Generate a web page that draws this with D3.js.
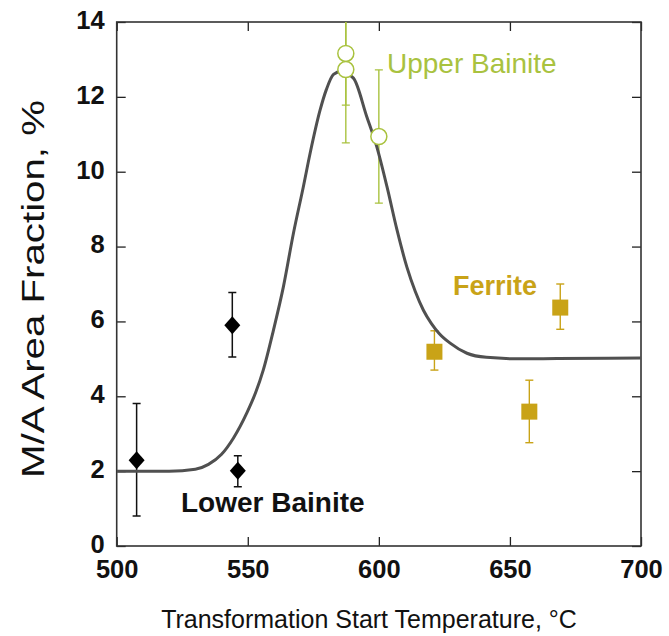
<!DOCTYPE html>
<html>
<head>
<meta charset="utf-8">
<script src="https://cdn.jsdelivr.net/npm/d3@7"></script>
<style>
  html, body { margin: 0; padding: 0; background: #fff; }
  svg { display: block; }
  text { font-family: Arial, "Liberation Sans", sans-serif; }
</style>
</head>
<body>
<svg id="chart" width="669" height="636"></svg>
<script>
// ---- Data ----
const xTicks = [500, 550, 600, 650, 700];
const yTicks = [0, 2, 4, 6, 8, 10, 12, 14];

// Lower bainite (black diamonds): [temperature, fraction, errLow, errHigh]
const lowerBainite = [
  [507.6, 2.29, 0.80, 3.81],
  [544.1, 5.90, 5.05, 6.77],
  [546.2, 2.01, 1.58, 2.41]
];
// Upper bainite (open circles)
const upperBainite = [
  [587.4, 13.16, 11.78, 14.54],
  [587.4, 12.73, 10.77, 14.69],
  [600.0, 10.94, 9.16, 12.72]
];
// Ferrite (squares)
const ferrite = [
  [621.2, 5.19, 4.70, 5.75],
  [657.4, 3.59, 2.76, 4.43],
  [669.2, 6.37, 5.79, 7.00]
];
// Fitted curve
const curveX = [500, 520, 530, 535, 540, 544.5, 549.6, 553, 555.9, 559.8, 563.6, 567.4, 571.2, 573.8, 577.6, 580, 582.7, 585.5, 590.3, 595.4, 599.2, 603.1, 606.9, 610.7, 613.9, 617, 620, 623, 627.2, 633.6, 641, 654, 668, 700];
const curveY = [2.0, 2.0, 2.05, 2.18, 2.45, 2.88, 3.55, 4.1, 4.70, 5.77, 6.93, 8.35, 9.60, 10.50, 11.65, 12.2, 12.6, 12.68, 12.5, 11.47, 10.67, 9.60, 8.45, 7.45, 6.8, 6.3, 5.95, 5.68, 5.42, 5.15, 5.04, 5.0, 5.01, 5.02];

// ---- Layout ----
const svg = d3.select("#chart");
const L = 116.7, R = 641, T = 22, B = 546;
const x = d3.scaleLinear().domain([500, 700]).range([L, R]);
const y = d3.scaleLinear().domain([0, 14]).range([B, T]);

const cUpper = "#a9c23f";
const cFerr = "#c9a317";
const cCurve = "#505050";

svg.append("defs").append("clipPath").attr("id", "clip")
  .append("rect").attr("x", L).attr("y", T).attr("width", R - L).attr("height", B - T);

// axes
const tickLen = 9;
const gx = svg.append("g").attr("transform", `translate(0,${B})`)
  .call(d3.axisBottom(x).tickValues(xTicks).tickSize(-tickLen).tickPadding(14).tickFormat(d3.format("d")));
const gxTop = svg.append("g").attr("transform", `translate(0,${T})`)
  .call(d3.axisTop(x).tickValues(xTicks).tickSize(-tickLen).tickFormat(""));
const gy = svg.append("g").attr("transform", `translate(${L},0)`)
  .call(d3.axisLeft(y).tickValues(yTicks).tickSize(-tickLen).tickPadding(12).tickFormat(d3.format("d")));
const gyR = svg.append("g").attr("transform", `translate(${R},0)`)
  .call(d3.axisRight(y).tickValues(yTicks).tickSize(-tickLen).tickFormat(""));

[gx, gxTop, gy, gyR].forEach(g => {
  g.select(".domain").remove();
  g.selectAll(".tick line").attr("stroke", "#222").attr("stroke-width", 1.3);
  g.selectAll("text").attr("font-size", 25.5).attr("font-weight", "bold")
    .attr("fill", "#111").attr("font-family", "Arial, 'Liberation Sans', sans-serif");
});
gy.selectAll("text").attr("dy", "0.25em");

// frame
svg.append("rect").attr("x", L).attr("y", T).attr("width", R - L).attr("height", B - T)
  .attr("fill", "none").attr("stroke", "#333").attr("stroke-width", 1.6);

const plot = svg.append("g").attr("clip-path", "url(#clip)");

// error bars
function errBars(data, color, width) {
  const cap = 4;
  const g = plot.append("g").attr("stroke", color).attr("stroke-width", width).attr("fill", "none");
  data.forEach(d => {
    g.append("line").attr("x1", x(d[0])).attr("x2", x(d[0])).attr("y1", y(d[2])).attr("y2", y(d[3]));
    g.append("line").attr("x1", x(d[0]) - cap).attr("x2", x(d[0]) + cap).attr("y1", y(d[2])).attr("y2", y(d[2]));
    g.append("line").attr("x1", x(d[0]) - cap).attr("x2", x(d[0]) + cap).attr("y1", y(d[3])).attr("y2", y(d[3]));
  });
}
errBars(lowerBainite, "#111", 1.5);
errBars(upperBainite, cUpper, 1.4);
errBars(ferrite, cFerr, 1.4);

// curve
const line = d3.line().x(d => x(d[0])).y(d => y(d[1])).curve(d3.curveMonotoneX);
plot.append("path").datum(curveX.map((v, i) => [v, curveY[i]]))
  .attr("d", line).attr("fill", "none").attr("stroke", cCurve).attr("stroke-width", 3);

// markers
plot.selectAll(".dia").data(lowerBainite).enter().append("path")
  .attr("transform", d => `translate(${x(d[0])},${y(d[1])})`)
  .attr("d", "M0,-9L8,0L0,9L-8,0Z").attr("fill", "#000");

plot.selectAll(".circ").data(upperBainite).enter().append("circle")
  .attr("cx", d => x(d[0])).attr("cy", d => y(d[1])).attr("r", 8)
  .attr("fill", "#fff").attr("stroke", cUpper).attr("stroke-width", 1.5);

plot.selectAll(".sq").data(ferrite).enter().append("rect")
  .attr("x", d => x(d[0]) - 8).attr("y", d => y(d[1]) - 8).attr("width", 16).attr("height", 16)
  .attr("fill", cFerr);

// annotations
svg.append("text").attr("x", 181).attr("y", 512).attr("font-size", 28).attr("font-weight", "bold")
  .attr("fill", "#111").text("Lower Bainite");
svg.append("text").attr("x", 387).attr("y", 73).attr("font-size", 28)
  .attr("fill", cUpper).text("Upper Bainite");
svg.append("text").attr("x", 453).attr("y", 295).attr("font-size", 27).attr("font-weight", "bold")
  .attr("fill", cFerr).text("Ferrite");

// axis titles
svg.append("text").attr("x", 369).attr("y", 628).attr("text-anchor", "middle")
  .attr("font-size", 25).attr("fill", "#111").text("Transformation Start Temperature, °C");
svg.append("text").attr("transform", "translate(44,289) rotate(-90)").attr("text-anchor", "middle")
  .attr("font-size", 31).attr("textLength", 378).attr("lengthAdjust", "spacingAndGlyphs")
  .attr("fill", "#111").text("M/A Area Fraction, %");
</script>
</body>
</html>
